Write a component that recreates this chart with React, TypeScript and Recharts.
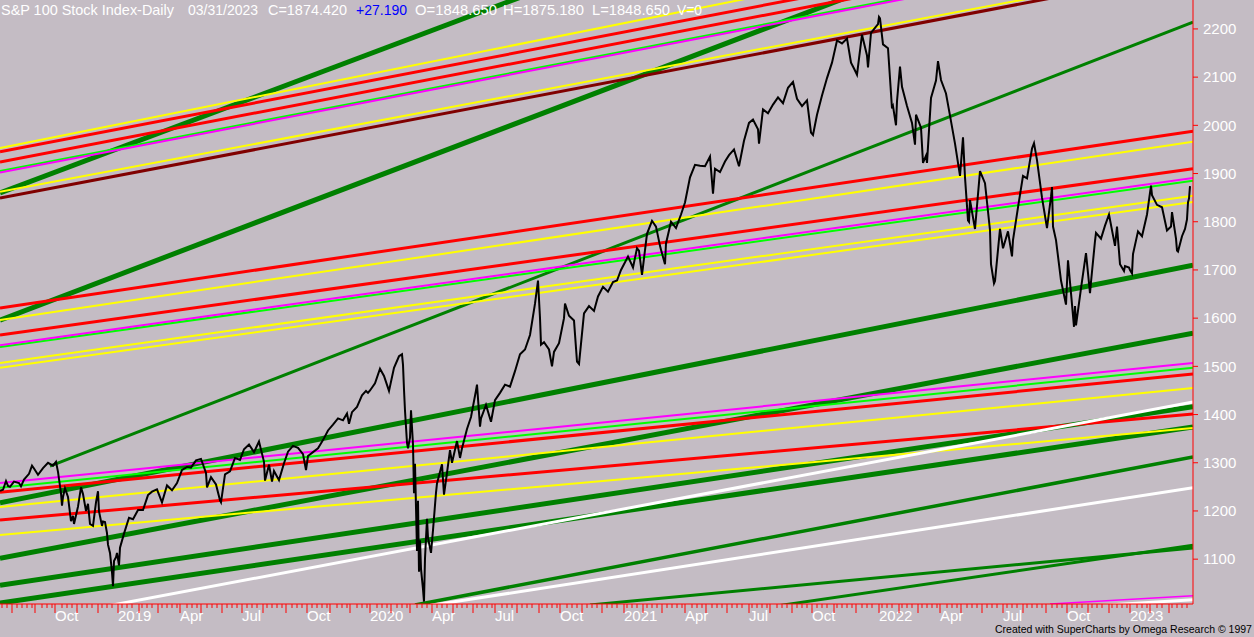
import React from 'react'
import { ComposedChart, Line, XAxis, YAxis, ReferenceLine } from 'recharts'

const BG = '#c4bcc4'
const FONT = '"Liberation Sans", Arial, sans-serif'

// bar position (one step per trading day) and daily close, S&P 100
const priceDay = [
  0, 3, 6, 8, 10, 14, 19, 21, 24, 29, 32, 34, 38, 43, 48, 53, 56, 58, 61, 62, 63, 65, 68, 71, 73, 74, 78, 81, 83, 86, 88, 90, 93, 96, 98, 99, 102, 103, 105, 107, 108, 110, 112, 113, 114, 116, 117, 119, 120,
  124, 129, 133, 138, 143, 148, 152, 157, 162, 167, 172, 177, 182, 187, 191, 196, 201, 206, 207, 211, 216, 220, 221, 225, 230, 235, 240, 244, 249, 254, 259, 264, 265, 269, 272, 274, 279, 284, 288, 293, 298, 303, 306, 308, 313, 318, 323, 328, 333, 338, 343, 347, 349, 352, 357, 362, 366, 368,
  370, 375, 380, 384, 389, 394, 399, 402, 403, 404, 405, 407, 408, 410, 411, 413, 414, 415, 417, 418, 419, 420, 421, 423, 424, 425, 427, 428, 431, 433, 436, 437, 442, 444, 447, 450, 452, 457, 460, 462, 467, 471, 476, 477, 480, 481, 486, 491, 495, 500, 505, 510, 515, 520, 525, 530, 535, 538, 540, 541, 544, 549, 552, 554, 559, 564, 565, 569, 574, 577, 579, 584, 589, 594, 598, 603, 608, 613, 617, 621,
  628, 633, 637, 639, 642, 647, 652, 656, 660, 661, 665, 666, 671, 676, 681, 685, 690, 695, 700, 705, 710, 713, 715, 720, 725, 729, 734, 739, 744, 749, 753, 758, 759, 763, 768, 773, 778, 783, 788, 793, 797, 802, 807, 811, 813, 817, 822, 827, 832, 837, 842, 847, 851, 854, 857, 862, 867, 868, 871, 878,
  879, 880, 883, 888, 892, 893, 896, 897, 900, 902, 907, 912, 915, 916, 921, 923, 926, 927, 931, 936, 938, 941, 946, 950, 955, 960, 963, 965, 968, 969, 970, 975, 980, 985, 990, 991, 994, 995, 1000, 1003, 1008, 1012, 1013, 1018, 1023, 1027, 1032, 1034, 1037, 1042, 1047, 1051, 1052, 1053, 1056, 1061, 1066, 1068, 1071, 1074, 1075, 1076, 1081, 1086, 1090, 1091, 1095, 1096, 1101, 1105, 1109, 1115, 1117, 1120, 1124, 1125, 1129,
  1130, 1132, 1133, 1138, 1142, 1147, 1151, 1152, 1157, 1162, 1167, 1171, 1172, 1176, 1177, 1178, 1182, 1185, 1187, 1188, 1189, 1190,
]
const priceClose = [
  1242, 1244, 1262, 1252, 1250, 1261, 1258, 1251, 1265, 1277, 1294, 1288, 1275, 1289, 1300, 1294, 1302, 1281, 1237, 1211, 1229, 1247, 1229, 1179, 1190, 1173, 1209, 1249, 1235, 1200, 1215, 1173, 1169, 1218, 1241, 1199, 1169, 1178, 1177, 1154, 1130, 1113, 1073, 1044, 1096, 1104, 1113, 1087, 1124,
  1153, 1186, 1183, 1202, 1202, 1233, 1240, 1245, 1218, 1253, 1243, 1258, 1285, 1291, 1290, 1305, 1308, 1279, 1249, 1270, 1255, 1222, 1218, 1276, 1282, 1310, 1306, 1328, 1338, 1322, 1344, 1302, 1263, 1296, 1261, 1283, 1264, 1299, 1323, 1335, 1331, 1318, 1285, 1314, 1322, 1330, 1347, 1367, 1379, 1392, 1388, 1402, 1381, 1405, 1416, 1440, 1449, 1445,
  1450, 1465, 1495, 1480, 1449, 1497, 1521, 1525, 1503, 1452, 1408, 1341, 1330, 1352, 1409, 1338, 1237, 1298, 1117, 1221, 1074, 1139, 1080, 1038, 1012, 1102, 1184, 1144, 1113, 1160, 1238, 1257, 1297, 1234, 1279, 1326, 1300, 1345, 1310, 1330, 1370, 1395, 1450, 1462, 1375, 1392, 1420, 1385, 1430, 1445, 1462, 1458, 1490, 1525, 1535, 1565, 1630, 1678, 1600, 1545, 1550, 1535, 1500, 1530, 1548, 1600, 1630, 1605, 1595, 1510, 1505, 1610, 1625, 1615, 1645, 1665, 1655, 1675, 1678, 1700,
  1728, 1705, 1745, 1740, 1690, 1775, 1802, 1790, 1750, 1742, 1712, 1755, 1800, 1787, 1815, 1840, 1892, 1918, 1916, 1915, 1935, 1858, 1910, 1903, 1925, 1938, 1950, 1915, 1968, 2005, 2012, 1992, 1962, 2033, 2025, 2043, 2058, 2046, 2078, 2090, 2055, 2040, 2052, 1985, 1980, 2022, 2062, 2098, 2130, 2176, 2170, 2180, 2130, 2118, 2105, 2188, 2145, 2120, 2192, 2210,
  2225, 2222, 2168, 2160, 2035, 2040, 2000, 2050, 2122, 2080, 2040, 2005, 1960, 2022, 1995, 1922, 1937, 1922, 2057, 2093, 2133, 2094, 2066, 2020, 1962, 1895, 1975, 1892, 1803, 1800, 1845, 1785, 1905, 1880, 1782, 1712, 1672, 1677, 1785, 1745, 1780, 1728, 1762, 1830, 1895, 1890, 1952, 1963, 1928, 1850, 1787, 1852, 1872, 1790, 1762, 1678, 1628, 1720, 1652, 1582, 1625, 1585, 1662, 1735, 1652, 1675, 1760, 1777, 1765, 1792, 1815, 1750, 1790, 1712, 1698, 1708, 1705,
  1700, 1693, 1733, 1780, 1770, 1815, 1875, 1855, 1835, 1830, 1782, 1790, 1820, 1765, 1740, 1738, 1770, 1785, 1805, 1840, 1848, 1874,
]

// trend lines: [day, price] start and end points
const trendStart = [
  [0, 1860], [0, 1596], [0, 1217], [0, 1102], [0, 1046], [0, 1009],
  [415, 1005], [50, 1293], [590, 1005], [780, 1004],
  [0, 1945], [0, 1924], [0, 1621], [0, 1565], [0, 1239], [0, 1181],
  [0, 1862], [0, 1849],
  [0, 1953], [0, 1596], [0, 1507], [0, 1497], [0, 1208], [0, 1150],
  [0, 1905], [0, 1540], [0, 1248],
  [0, 1902], [0, 1544], [0, 1258], [1050, 1007],
  [100, 1000], [430, 1004], [1100, 1004],
]
const trendEnd = [
  [1193, 2790], [1193, 2539], [1193, 1710], [1193, 1569], [1193, 1416], [1193, 1374],
  [1193, 1312], [1193, 2214], [1193, 1123], [1193, 1129],
  [1193, 2420], [1193, 2399], [1193, 1988], [1193, 1910], [1193, 1484], [1193, 1401],
  [1193, 2327], [1193, 2320],
  [1193, 2448], [1193, 1966], [1193, 1854], [1193, 1841], [1193, 1455], [1193, 1372],
  [1193, 2380], [1193, 1885], [1193, 1497],
  [1193, 2377], [1193, 1891], [1193, 1507], [1193, 1024],
  [1193, 1426], [1193, 1248], [1193, 1016],
]
const trendStyle = [
  ...Array(6).fill({ c: '#008000', w: 5 }),
  { c: '#008000', w: 3.5 }, { c: '#008000', w: 3 }, { c: '#008000', w: 3 }, { c: '#008000', w: 3 },
  ...Array(6).fill({ c: '#ff0000', w: 3 }),
  { c: '#ffff00', w: 2 }, { c: '#800000', w: 3 },
  ...Array(6).fill({ c: '#ffff00', w: 2 }),
  ...Array(3).fill({ c: '#00ff00', w: 2 }),
  ...Array(3).fill({ c: '#ff00ff', w: 2 }), { c: '#ff00ff', w: 1.5 },
  ...Array(3).fill({ c: '#ffffff', w: 3 }),
]

const yTicks = [1100, 1200, 1300, 1400, 1500, 1600, 1700, 1800, 1900, 2000, 2100, 2200]
const labelDays = [55, 118, 180, 242, 307, 370, 432, 495, 560, 624, 685, 749, 812, 879, 940, 1003, 1067, 1130]
const labelText = ['Oct', '2019', 'Apr', 'Jul', 'Oct', '2020', 'Apr', 'Jul', 'Oct', '2021', 'Apr', 'Jul', 'Oct', '2022', 'Apr', 'Jul', 'Oct', '2023']
const monthDays = [12, 35, 77, 98, 139, 158, 201, 222, 263, 286, 330, 350, 391, 410, 453, 473, 517, 539, 582, 602, 643, 662, 706, 727, 770, 792, 834, 856, 899, 918, 961, 982, 1023, 1046, 1088, 1109, 1150, 1169]

const data = priceDay.map((d, i) => ({ day: d, close: priceClose[i] }))

const longTicks = new Set([...labelDays, ...monthDays])
const weekTicks: number[] = []
for (let d = 2; d < 1192; d += 5) {
  if (![...longTicks].some(m => Math.abs(m - d) < 3)) weekTicks.push(d)
}
const allTicks = [...longTicks, ...weekTicks].sort((a, b) => a - b)

const XTick = (props: any) => {
  const { x, y, payload } = props
  const idx = labelDays.indexOf(payload.value)
  const long = longTicks.has(payload.value)
  return (
    <g>
      <line x1={x} y1={y} x2={x} y2={y + (long ? 9 : 4)} stroke="#ff0000" strokeWidth={1} />
      {idx >= 0 && (
        <text x={x} y={y + 17} fill="#ffffff" fontSize={15} fontFamily={FONT} textAnchor="start">
          {labelText[idx]}
        </text>
      )}
    </g>
  )
}

export default function App() {
  return (
    <div style={{ position: 'relative', width: 1254, height: 637, background: BG }}>
      <style>{'body{margin:0;background:' + BG + '}'}</style>
      <ComposedChart width={1254} height={637} data={data} margin={{ top: 0, right: 0, bottom: 0, left: 0 }}>
        <XAxis
          dataKey="day"
          type="number"
          domain={[0, 1193]}
          allowDataOverflow
          ticks={allTicks}
          interval={0}
          height={33}
          tickSize={0}
          tickMargin={0}
          tickLine={false}
          axisLine={{ stroke: '#ff0000' }}
          tick={XTick}
        />
        <YAxis
          orientation="right"
          type="number"
          domain={[1007, 2260]}
          allowDataOverflow
          ticks={yTicks}
          width={61}
          tickSize={5}
          tickMargin={5}
          axisLine={{ stroke: '#ff0000' }}
          tickLine={{ stroke: '#ff0000' }}
          tick={{ fill: '#ffffff', fontSize: 15, fontFamily: FONT }}
        />
        {trendStart.map((s, i) => (
          <ReferenceLine
            key={i}
            segment={[{ x: s[0], y: s[1] }, { x: trendEnd[i][0], y: trendEnd[i][1] }]}
            stroke={trendStyle[i].c}
            strokeWidth={trendStyle[i].w}
            ifOverflow="hidden"
          />
        ))}
        <Line
          type="linear"
          dataKey="close"
          stroke="#000000"
          strokeWidth={2}
          dot={false}
          activeDot={false}
          isAnimationActive={false}
        />
      </ComposedChart>
      <svg width={1254} height={637} style={{ position: 'absolute', left: 0, top: 0, pointerEvents: 'none' }}>
        <g fontFamily={FONT} fontSize={14.5} fill="#ffffff">
          <text x={1} y={15} textLength={173} lengthAdjust="spacingAndGlyphs">S&amp;P 100 Stock Index-Daily</text>
          <text x={188} y={15} textLength={70} lengthAdjust="spacingAndGlyphs">03/31/2023</text>
          <text x={268} y={15} textLength={79} lengthAdjust="spacingAndGlyphs">C=1874.420</text>
          <text x={356} y={15} fill="#0000ff" textLength={51} lengthAdjust="spacingAndGlyphs">+27.190</text>
          <text x={415} y={15} textLength={82} lengthAdjust="spacingAndGlyphs">O=1848.650</text>
          <text x={503} y={15} textLength={81} lengthAdjust="spacingAndGlyphs">H=1875.180</text>
          <text x={592} y={15} textLength={78} lengthAdjust="spacingAndGlyphs">L=1848.650</text>
          <text x={677} y={15} textLength={25} lengthAdjust="spacingAndGlyphs">V=0</text>
        </g>
        <text x={995} y={633} fontFamily={FONT} fontSize={10.5} fill="#000000">
          Created with SuperCharts by Omega Research © 1997
        </text>
      </svg>
    </div>
  )
}
